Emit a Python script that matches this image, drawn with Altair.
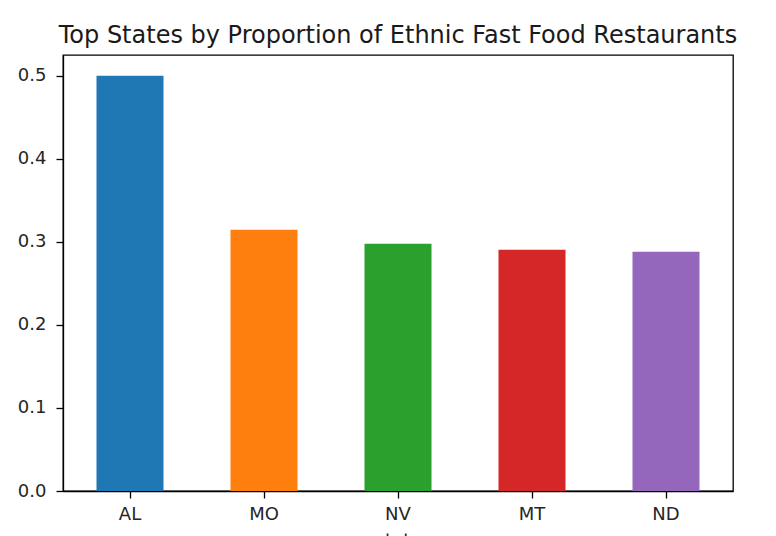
import altair as alt
import pandas as pd

states = ["AL", "MO", "NV", "MT", "ND"]
proportions = [0.500, 0.3145, 0.2976, 0.2905, 0.2880]
colors = ["#1f77b4", "#ff7f0e", "#2ca02c", "#d62728", "#9467bd"]

df = pd.DataFrame({"state": states, "proportion": proportions})

FONT = "DejaVu Sans"

chart = (
    alt.Chart(df)
    .mark_bar()
    .encode(
        x=alt.X(
            "state:N",
            sort=states,
            scale=alt.Scale(paddingInner=0.5, paddingOuter=0.25),
            axis=alt.Axis(
                title="state",
                labelAngle=0,
                labelFontSize=18,
                labelPadding=7,
                tickSize=7,
                tickWidth=1.3,
                tickColor="#000000",
                domainColor="#000000",
                domainWidth=1.3,
                labelColor="#262626",
                titleFontSize=18,
                titleFontWeight="normal",
                titleColor="#262626",
                titlePadding=8,
            ),
        ),
        y=alt.Y(
            "proportion:Q",
            scale=alt.Scale(domain=[0, 0.525], nice=False, zero=True),
            axis=alt.Axis(
                title=None,
                values=[0.0, 0.1, 0.2, 0.3, 0.4, 0.5],
                format=".1f",
                grid=False,
                labelFontSize=18,
                labelPadding=10,
                tickSize=7,
                tickWidth=1.3,
                tickColor="#000000",
                domainColor="#000000",
                domainWidth=1.3,
                labelColor="#262626",
            ),
        ),
        color=alt.Color(
            "state:N",
            sort=states,
            scale=alt.Scale(domain=states, range=colors),
            legend=None,
        ),
    )
    .properties(
        width=670,
        height=436,
        title=alt.Title(
            "Top States by Proportion of Ethnic Fast Food Restaurants",
            fontSize=24,
            fontWeight="normal",
            font=FONT,
            color="#1a1a1a",
            anchor="middle",
            baseline="alphabetic",
            offset=-12,
        ),
        autosize=alt.AutoSizeParams(type="none"),
        padding={"left": 63, "top": 55, "right": 43, "bottom": 45},
    )
    .configure(font=FONT)
    .configure_view(stroke="#000000", strokeWidth=1.3)
    .configure_axis(labelFont=FONT, titleFont=FONT)
)

chart.save("out.html", embed_options={"renderer": "svg", "actions": False})
